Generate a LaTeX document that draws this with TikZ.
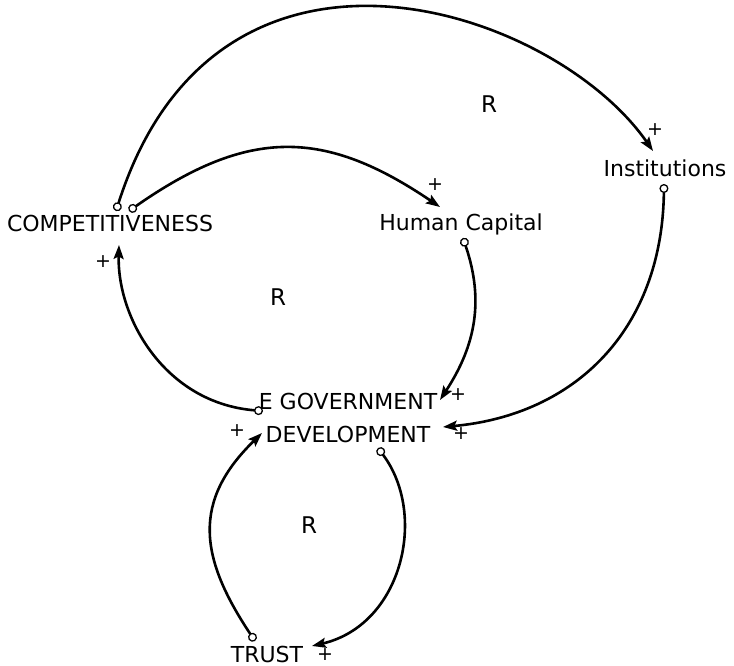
\documentclass[tikz,border=0pt]{standalone}
\usepackage{fontspec}
\setmainfont{DejaVu Sans}
\usetikzlibrary{arrows.meta,calc}

\tikzset{
  var/.style={font=\fontsize{22}{33}\selectfont, inner sep=0pt},
  pol/.style={font=\fontsize{19}{24}\selectfont, inner sep=0pt},
  loopsign/.style={font=\fontsize{23}{26}\selectfont, inner sep=0pt},
  link/.style={line width=2.6pt,
    {Circle[open,length=9pt,width=9pt,line width=1.3pt]}-{Stealth[length=14pt,width=10pt,inset=2.5pt]}},
}

\begin{document}
\begin{tikzpicture}[x=1pt,y=-1pt]
\useasboundingbox (0,0) rectangle (734,666);
\node[var,anchor=base] (comp) at (110,231) {COMPETITIVENESS};
\node[var,anchor=base] (humcap) at (461,230) {Human Capital};
\node[var,anchor=base] (inst) at (665,177) {Institutions};
\node[var,align=center] (egov) at (348,418) {E GOVERNMENT\\DEVELOPMENT};
\node[var,anchor=base] (trust) at (267,662) {TRUST};
% loop markers
\node[loopsign] (r1) at (489,104) {R};
\node[loopsign] (r2) at (278,297) {R};
\node[loopsign] (r3) at (309,525) {R};
% links
\draw[link] ($(comp.base)+(6,-20)$) .. controls (217,-105) and (553,7) .. ($(inst.base)+(-12,-26)$);
\draw[link] ($(comp.base)+(19,-20)$) .. controls (249,127) and (325,129) .. ($(humcap.base)+(-21,-23)$);
\draw[link] ($(humcap.base)+(2,8)$) .. controls (484,300) and (476,345) .. ($(egov)+(92,-18)$);
\draw[link] ($(inst.base)+(-1,7)$) .. controls (662,330) and (575,415) .. ($(egov)+(95,9)$);
\draw[link] ($(egov)+(-85,-7)$) .. controls (165,403) and (117,318) .. ($(comp.base)+(9,14)$);
\draw[link] ($(egov)+(30,30)$) .. controls (428,515) and (402,625) .. ($(trust.base)+(45,-16)$);
\draw[link] ($(trust.base)+(-12,-21)$) .. controls (199,557) and (192,501) .. ($(egov)+(-86,15)$);
% polarities
\node[pol] (p1) at (655,130) {+};
\node[pol] (p2) at (435,185) {+};
\node[pol] (p3) at (458,395) {+};
\node[pol] (p4) at (461,434) {+};
\node[pol] (p5) at (103,262) {+};
\node[pol] (p6) at (237,431) {+};
\node[pol] (p7) at (325,655) {+};
\end{tikzpicture}
\end{document}
